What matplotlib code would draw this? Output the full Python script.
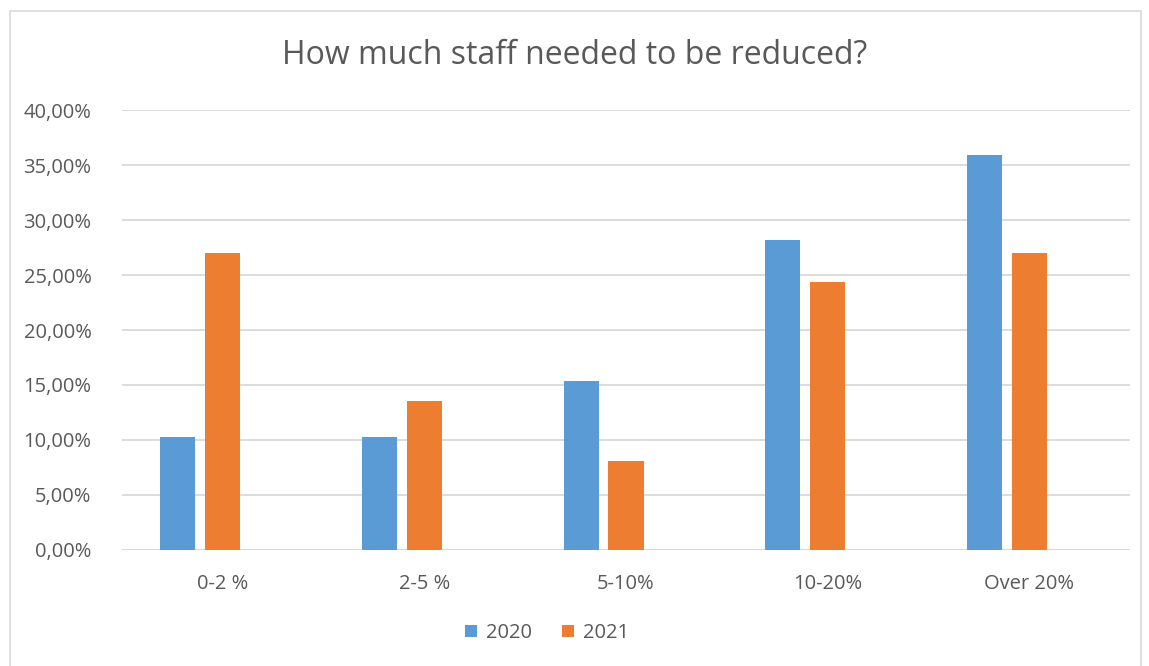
import matplotlib.pyplot as plt
import numpy as np
from matplotlib.patches import Rectangle
from matplotlib.ticker import FuncFormatter, MultipleLocator

categories = ["0-2 %", "2-5 %", "5-10%", "10-20%", "Over 20%"]
share_2020 = [10.26, 10.26, 15.38, 28.21, 35.90]
share_2021 = [27.03, 13.51, 8.11, 24.32, 27.03]

blue = "#5B9BD5"
orange = "#ED7D31"
text_col = "#595959"
grid_col = "#D9D9D9"

plt.rcParams['font.family'] = ['Open Sans', 'DejaVu Sans']

fig = plt.figure(figsize=(11.49, 6.66), dpi=100)
ax = fig.add_axes([0.1062, 0.1742, 0.8773, 0.6606])

# chart border
fig.patches.append(Rectangle((10 / 1149, -0.01), 1131 / 1149, 1 - 11 / 666 + 0.01,
                             transform=fig.transFigure, fill=False,
                             edgecolor=grid_col, linewidth=1.2))

x = np.arange(len(categories))
bw = 0.174
ax.bar(x - 0.223, share_2020, width=bw, color=blue, label="2020", zorder=3)
ax.bar(x, share_2021, width=bw, color=orange, label="2021", zorder=3)

ax.set_xlim(-0.5, len(categories) - 0.5)
ax.set_ylim(0, 40)
ax.yaxis.set_major_locator(MultipleLocator(5))
ax.yaxis.set_major_formatter(FuncFormatter(lambda v, p: f"{v:.2f}%".replace(".", ",")))
ax.set_xticks(x)
ax.set_xticklabels(categories)
ax.grid(axis='y', color=grid_col, linewidth=1.3, zorder=0)
for s in ax.spines.values():
    s.set_visible(False)
ax.axhline(0, color=grid_col, linewidth=1.5, zorder=2)
ax.tick_params(axis='y', length=0, pad=22, labelsize=14.5, labelcolor=text_col)
ax.tick_params(axis='x', length=0, pad=17, labelsize=14.5, labelcolor=text_col)

fig.text(0.5, 1 - 56 / 666, "How much staff needed to be reduced?",
         ha='center', va='center', fontsize=23, color=text_col)

fig.legend(loc='center', bbox_to_anchor=(0.476, 1 - 633 / 666), ncol=2,
           frameon=False, fontsize=14.5, labelcolor=text_col,
           handlelength=0.6, handleheight=0.6, handletextpad=0.45,
           columnspacing=1.5)

fig.savefig("out.png", dpi=100)
